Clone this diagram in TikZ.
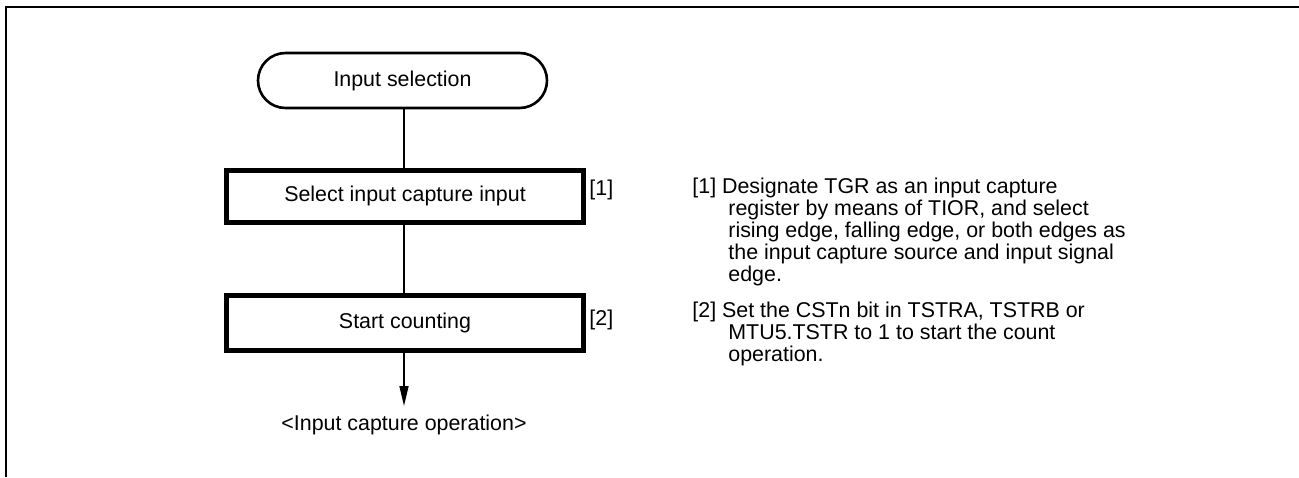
\documentclass[tikz,border=0pt]{standalone}
\usepackage{fontspec}
\setmainfont{Liberation Sans}
\usetikzlibrary{shapes.misc,arrows.meta,positioning}

\begin{document}
\begin{tikzpicture}[
  x=0.5pt, y=-0.5pt,
  every node/.style={font=\fontsize{10.7}{11}\selectfont, inner sep=0pt},
  terminal/.style={draw, rounded rectangle, line width=1.3pt,
    minimum width=144.5pt, minimum height=27.5pt},
  procbox/.style={draw, rectangle, line width=2.5pt,
    minimum width=178.5pt},
  flow/.style={line width=0.8pt},
  notetext/.style={anchor=base west, align=left}]
\useasboundingbox (0,0) rectangle (1299,477);
% frame
\draw[line width=0.9pt] (6,477) -- (6,7) -- (1299,7);
% flow chart
\node[terminal] (start) at (402.5,80.5) {Input selection};
\node[procbox, minimum height=26.25pt] (select) at (405,196.25) {Select input capture input};
\node[procbox, minimum height=27.5pt] (count) at (405,323) {Start counting};
\node (result) at (404,425) {<Input capture operation>};
\node[anchor=west] (lab1) at (589,190) {[1]};
\node[anchor=west] (lab2) at (589,320) {[2]};
\coordinate (tip) at (404,406);
\draw[flow] (start.south -| 404,0) -- (select.north -| 404,0);
\draw[flow] (select.south -| 404,0) -- (count.north -| 404,0);
\draw[flow, -{Triangle[length=10pt,width=4.5pt]}] (count.south -| 404,0) -- (tip);
% notes (anchored on the baseline of the last line)
\node[notetext] (note1) at (692,281) {[1] Designate TGR as an input capture\\
  \hspace*{18pt}register by means of TIOR, and select\\
  \hspace*{18pt}rising edge, falling edge, or both edges as\\
  \hspace*{18pt}the input capture source and input signal\\
  \hspace*{18pt}edge.};
\node[notetext] (note2) at (692,361) {[2] Set the CSTn bit in TSTRA, TSTRB or\\
  \hspace*{18pt}MTU5.TSTR to 1 to start the count\\
  \hspace*{18pt}operation.};
\end{tikzpicture}
\end{document}
